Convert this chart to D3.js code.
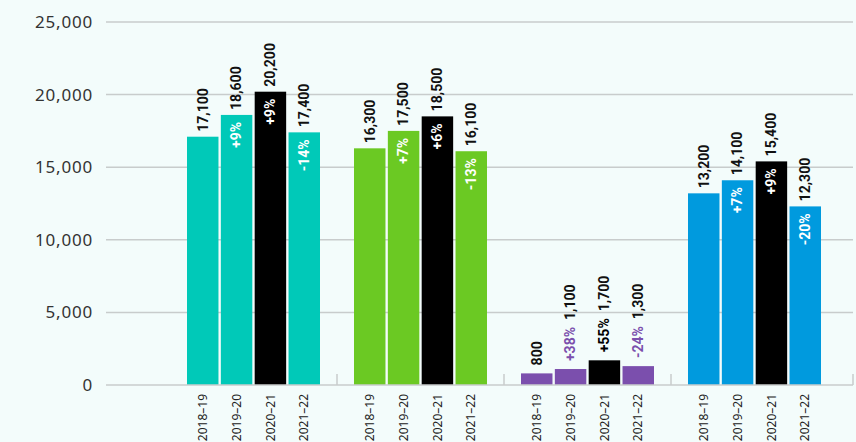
<!DOCTYPE html>
<html>
<head>
<meta charset="utf-8">
<script src="https://cdn.jsdelivr.net/npm/d3@7"></script>
<style>
  html, body { margin: 0; padding: 0; background: #f3fcfb; }
  svg { display: block; }
</style>
</head>
<body>
<svg id="chart" width="856" height="442"></svg>
<script>
(function () {
  'use strict';

  const groups = ['g1', 'g2', 'g3', 'g4'];
  const years = ['2018–19', '2019–20', '2020–21', '2021–22'];
  const values = [
    [17100, 18600, 20200, 17400],
    [16300, 17500, 18500, 16100],
    [800, 1100, 1700, 1300],
    [13200, 14100, 15400, 12300],
  ];
  const changes = [
    [null, '+9%', '+9%', '-14%'],
    [null, '+7%', '+6%', '-13%'],
    [null, '+38%', '+55%', '-24%'],
    [null, '+7%', '+9%', '-20%'],
  ];
  const groupColors = ['#00c9b8', '#6bc923', '#7b4fad', '#009ade'];
  const yTicks = [0, 5000, 10000, 15000, 20000, 25000];

  const svg = d3.select('#chart');
  const left = 106, right = 853, top = 22, bottom = 385;

  const y = d3.scaleLinear().domain([0, 25000]).range([bottom, top]);
  const x = d3.scaleBand().domain(groups).range([170, 838]);
  const xi = d3.scaleBand().domain(years).range([17, 150]).paddingInner(0.07);

  // gridlines + y labels
  svg.append('g').selectAll('line').data(yTicks.slice(1))
    .enter().append('line')
    .attr('x1', left).attr('x2', right)
    .attr('y1', d => y(d)).attr('y2', d => y(d))
    .attr('stroke', '#c8cccc').attr('stroke-width', 1.5);

  svg.append('g').selectAll('text').data(yTicks)
    .enter().append('text')
    .attr('x', 93).attr('y', d => y(d))
    .attr('dy', '0.35em')
    .attr('text-anchor', 'end')
    .attr('font-family', 'Noto Sans')
    .attr('font-size', 17)
    .attr('letter-spacing', 0.8)
    .attr('fill', '#333')
    .text(d => d3.format(',')(d));

  // bars
  const g = svg.append('g').selectAll('g').data(groups)
    .enter().append('g')
    .attr('transform', d => `translate(${x(d)},0)`);

  g.each(function (gname, gi) {
    const sel = d3.select(this);
    years.forEach((yr, i) => {
      const v = values[gi][i];
      const bx = xi(yr);
      const bw = xi.bandwidth();
      const cx = bx + bw / 2;
      const color = i === 2 ? '#000' : groupColors[gi];
      const topY = y(v);
      sel.append('rect')
        .attr('x', bx).attr('y', topY)
        .attr('width', bw).attr('height', bottom - topY)
        .attr('fill', color);

      let labelStart = topY - 5;
      const pct = changes[gi][i];
      if (pct) {
        const inside = (bottom - topY) > 60;
        const t = sel.append('text')
          .attr('font-family', 'Roboto')
          .attr('font-weight', 'bold')
          .attr('font-size', 14)
          .attr('dy', '0.35em')
          .text(pct);
        if (inside) {
          t.attr('transform', `translate(${cx},${topY + 7}) rotate(-90)`)
            .attr('text-anchor', 'end')
            .attr('fill', '#fff');
        } else {
          const start = topY - 8;
          t.attr('transform', `translate(${cx},${start}) rotate(-90)`)
            .attr('text-anchor', 'start')
            .attr('fill', i === 2 ? '#000' : groupColors[gi]);
          labelStart = start - t.node().getComputedTextLength() - 7;
        }
      } else if (bottom - topY < 60) {
        labelStart = topY - 8;
      }

      sel.append('text')
        .attr('transform', `translate(${cx},${labelStart}) rotate(-90)`)
        .attr('text-anchor', 'start')
        .attr('dy', '0.35em')
        .attr('font-family', 'Roboto')
        .attr('font-weight', 'bold')
        .attr('font-size', 14)
        .attr('fill', '#111')
        .text(d3.format(',')(v));

      sel.append('text')
        .attr('transform', `translate(${cx},${bottom + 9}) rotate(-90)`)
        .attr('text-anchor', 'end')
        .attr('dy', '0.35em')
        .attr('font-family', 'Noto Sans')
        .attr('font-size', 12)
        .attr('fill', '#222')
        .text(yr);
    });
  });

  // category axis
  svg.append('line')
    .attr('x1', left).attr('x2', right)
    .attr('y1', bottom).attr('y2', bottom)
    .attr('stroke', '#c8cccc').attr('stroke-width', 1.5);

  const tickXs = groups.slice(1).map(d => x(d)).concat([right]);
  svg.append('g').selectAll('line').data(tickXs)
    .enter().append('line')
    .attr('x1', d => d).attr('x2', d => d)
    .attr('y1', bottom).attr('y2', bottom - 11)
    .attr('stroke', '#c8cccc').attr('stroke-width', 1.5);
}());
</script>
</body>
</html>
